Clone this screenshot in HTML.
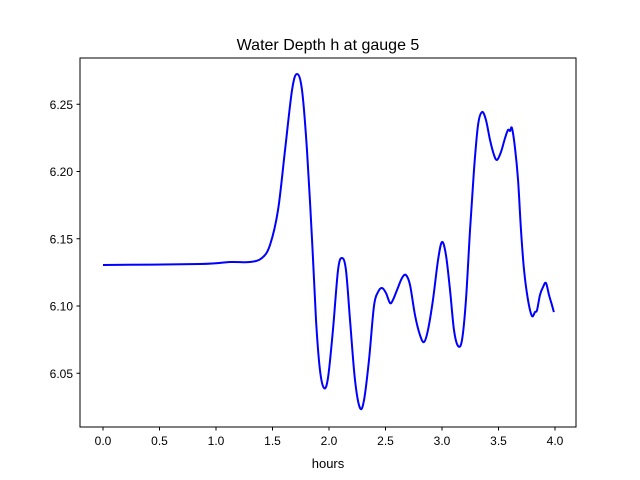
<!DOCTYPE html>
<html><head><meta charset="utf-8"><style>
body{margin:0;background:#fff;}
svg{display:block;font-family:"Liberation Sans","DejaVu Sans",sans-serif;}
</style></head><body>
<svg id="chart" width="640" height="480">
<rect width="640" height="480" fill="#fff"/>
<text x="328" y="50" text-anchor="middle" font-size="16">Water Depth h at gauge 5</text>
<g id="plot"></g>
<rect x="80" y="58" width="496" height="369" fill="none" stroke="#000" stroke-width="1"/>
<text x="328" y="468" text-anchor="middle" font-size="13">hours</text>
</svg>
<script>
const hours=[0,0.858,1.124,1.301,1.407,1.478,1.549,1.611,1.673,1.717,1.761,1.805,1.850,1.885,1.920,1.956,1.991,2.035,2.080,2.115,2.150,2.186,2.230,2.274,2.310,2.354,2.398,2.434,2.469,2.504,2.540,2.566,2.602,2.646,2.681,2.717,2.761,2.805,2.841,2.876,2.920,2.965,3.000,3.035,3.071,3.106,3.142,3.177,3.212,3.248,3.283,3.319,3.354,3.389,3.425,3.460,3.487,3.522,3.558,3.584,3.602,3.619,3.646,3.673,3.699,3.726,3.761,3.796,3.823,3.841,3.867,3.894,3.920,3.947,3.973,3.99];
const depth=[6.1305,6.1312,6.1327,6.1327,6.1357,6.1454,6.1714,6.2160,6.2606,6.2725,6.2606,6.2160,6.1491,6.0896,6.0524,6.0390,6.0465,6.0822,6.1268,6.1357,6.1268,6.0896,6.0450,6.0242,6.0301,6.0599,6.1,6.1104,6.1134,6.1097,6.1022,6.1045,6.1119,6.1208,6.1230,6.1156,6.0933,6.0784,6.0732,6.0822,6.1045,6.1342,6.1476,6.1379,6.1119,6.0822,6.0703,6.0747,6.1045,6.1565,6.2011,6.2346,6.2442,6.2383,6.2234,6.2123,6.2086,6.2145,6.2249,6.2309,6.2301,6.2323,6.2175,6.1937,6.1565,6.1268,6.1045,6.0926,6.0955,6.0970,6.1082,6.1141,6.1171,6.1082,6.1007,6.0955];
const xTicks=[0,0.5,1,1.5,2,2.5,3,3.5,4];
const xTickLabels=["0.0","0.5","1.0","1.5","2.0","2.5","3.0","3.5","4.0"];
const yTicks=[6.05,6.10,6.15,6.20,6.25];
const yTickLabels=["6.05","6.10","6.15","6.20","6.25"];
const NS="http://www.w3.org/2000/svg";
const X=v=>103+v*113;
const Y=v=>306-(v-6.10)*1345;
const g=document.getElementById('plot');
function mk(t,a){const e=document.createElementNS(NS,t);for(const k in a)e.setAttribute(k,a[k]);g.appendChild(e);return e;}
xTicks.forEach((t,i)=>{
 const l=mk('line',{x1:X(t),x2:X(t),y1:427,y2:430.5,stroke:'#000'});
 
 
 const tx=mk('text',{x:X(t),y:445,'text-anchor':'middle','font-size':'12'});
 tx.textContent=xTickLabels[i];
 
 
});
yTicks.forEach((t,i)=>{
 const l=mk('line',{x1:76.5,x2:80,y1:Y(t),y2:Y(t),stroke:'#000'});
 
 
 const tx=mk('text',{x:73,y:Y(t)+4.5,'text-anchor':'end','font-size':'12'});
 tx.textContent=yTickLabels[i];
 
 
});
const P=hours.map((h,i)=>[X(h),Y(depth[i])]);
let d='M'+P[0][0]+','+P[0][1];
for(let i=0;i<P.length-1;i++){
 const p0=P[Math.max(0,i-1)],p1=P[i],p2=P[i+1],p3=P[Math.min(P.length-1,i+2)];
 const c1=[p1[0]+(p2[0]-p0[0])/6,p1[1]+(p2[1]-p0[1])/6];
 const c2=[p2[0]-(p3[0]-p1[0])/6,p2[1]-(p3[1]-p1[1])/6];
 d+=' C'+c1.join(',')+' '+c2.join(',')+' '+p2.join(',');
}
const line=mk('path',{d:d,fill:'none',stroke:'#0000ff','stroke-width':'2','stroke-linejoin':'round'});


</script>
</body></html>
